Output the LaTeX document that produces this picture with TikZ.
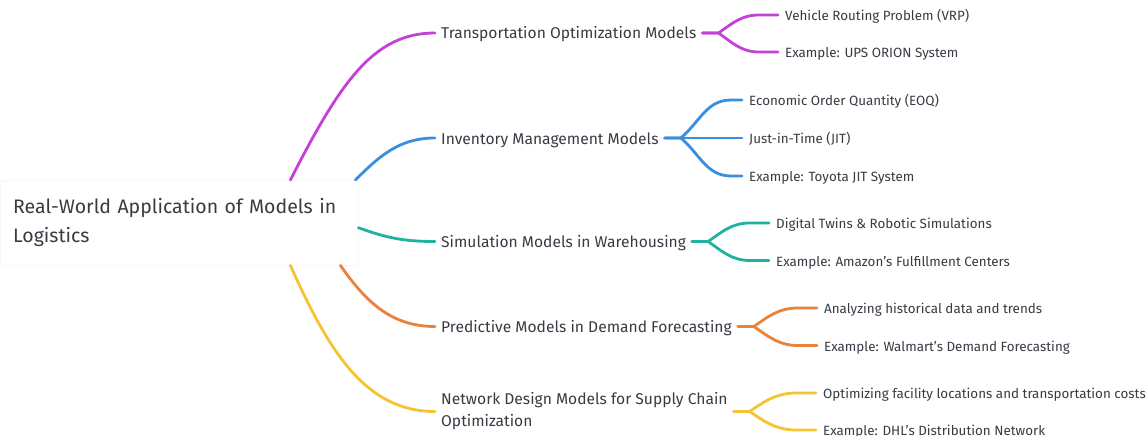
\documentclass[tikz,border=0pt]{standalone}
\usepackage{fontspec}
\setmainfont{Fira Sans}
\usepackage{tikz}
\usepackage{xcolor}
\definecolor{inkcolor}{RGB}{55,60,68}
\definecolor{transpcolor}{RGB}{196,64,214}
\definecolor{inventcolor}{RGB}{57,142,224}
\definecolor{simulcolor}{RGB}{32,178,160}
\definecolor{predictcolor}{RGB}{235,130,60}
\definecolor{netcolor}{RGB}{245,196,48}

\begin{document}
\begin{tikzpicture}[x=1pt, y=-1pt,
  rootbox/.style={fill=white, draw=black!3, anchor=north west, inner xsep=13pt, inner ysep=0pt,
    minimum width=358pt, minimum height=85pt, text width=332pt, align=left,
    font=\fontsize{19.5}{29.5}\selectfont, text=inkcolor},
  topic/.style={inner sep=0pt, anchor=west, font=\fontsize{15.6}{22}\selectfont, text=inkcolor},
  tline/.style={topic, text height=14pt, text depth=2pt},
  leaf/.style={inner sep=0pt, anchor=west, font=\fontsize{13.4}{16}\selectfont, text=inkcolor,
    text height=13pt, text depth=1.6pt},
  link/.style={line width=2.8pt, line cap=round, line join=round}]

% Canvas
\fill[white] (0,0) rectangle (1146,436);
\useasboundingbox (0,0) rectangle (1146,436);

% Central topic
\node[rootbox] (root) at (0,180) {Real-World Application of Models in\\Logistics};

% Main branches
\node[tline] (transp) at (441,33) {Transportation Optimization Models};
\node[tline] (invent) at (441,138) {Inventory Management Models};
\node[tline] (simul) at (441,241.5) {Simulation Models in Warehousing};
\node[tline] (predict) at (441,326.5) {Predictive Models in Demand Forecasting};
\node[topic, align=left] (netdes) at (441,411.5) {Network Design Models for Supply Chain\\Optimization};

% Leaves
\node[leaf] (t1) at (785,15) {Vehicle Routing Problem (VRP)};
\node[leaf] (t2) at (785,52) {Example: UPS ORION System};
\node[leaf] (i1) at (749,100) {Economic Order Quantity (EOQ)};
\node[leaf] (i2) at (749,138) {Just-in-Time (JIT)};
\node[leaf] (i3) at (749,176) {Example: Toyota JIT System};
\node[leaf] (s1) at (776,223) {Digital Twins \& Robotic Simulations};
\node[leaf] (s2) at (776,260.5) {Example: Amazon's Fulfillment Centers};
\node[leaf] (p1) at (824,308) {Analyzing historical data and trends};
\node[leaf] (p2) at (824,345.5) {Example: Walmart's Demand Forecasting};
\node[leaf] (n1) at (823,393) {Optimizing facility locations and transportation costs};
\node[leaf] (n2) at (823,430) {Example: DHL's Distribution Network};

% Root to main branches
\draw[link, transpcolor] ([xshift=-68pt]root.north east) to[out=63,in=180,out looseness=1.4,in looseness=0.75] ([xshift=-6pt]transp.west);
\draw[link, inventcolor] ([xshift=-3pt]root.north east) to[out=45,in=180] ([xshift=-6pt]invent.west);
\draw[link, simulcolor] ([yshift=-5pt]root.east) to[out=-20,in=180] ([xshift=-6pt]simul.west);
\draw[link, predictcolor] ([xshift=-18pt]root.south east) to[out=-55,in=180] ([xshift=-6pt]predict.west);
\draw[link, netcolor] ([xshift=-68pt]root.south east) to[out=-66,in=180,out looseness=1.2,in looseness=0.85] ([xshift=-6pt]netdes.west);

% Transportation leaves
\draw[link, transpcolor] ([xshift=6pt]transp.east) -- ++(16,0) to[out=35,in=180] ([xshift=-26pt]t1.west) -- ([xshift=-7pt]t1.west);
\draw[link, transpcolor] ([xshift=6pt]transp.east) -- ++(16,0) to[out=-35,in=180] ([xshift=-26pt]t2.west) -- ([xshift=-7pt]t2.west);

% Inventory leaves
\draw[link, inventcolor] ([xshift=6pt]invent.east) -- ++(16,0) to[out=40,in=180] ([xshift=-18pt]i1.west) -- ([xshift=-7pt]i1.west);
\draw[link, inventcolor] ([xshift=6pt]invent.east) -- ([xshift=-7pt]i2.west);
\draw[link, inventcolor] ([xshift=6pt]invent.east) -- ++(16,0) to[out=-40,in=180] ([xshift=-18pt]i3.west) -- ([xshift=-7pt]i3.west);

% Simulation leaves
\draw[link, simulcolor] ([xshift=6pt]simul.east) -- ++(16,0) to[out=35,in=180] ([xshift=-26pt]s1.west) -- ([xshift=-7pt]s1.west);
\draw[link, simulcolor] ([xshift=6pt]simul.east) -- ++(16,0) to[out=-35,in=180] ([xshift=-26pt]s2.west) -- ([xshift=-7pt]s2.west);

% Predictive leaves
\draw[link, predictcolor] ([xshift=6pt]predict.east) -- ++(16,0) to[out=35,in=180] ([xshift=-26pt]p1.west) -- ([xshift=-7pt]p1.west);
\draw[link, predictcolor] ([xshift=6pt]predict.east) -- ++(16,0) to[out=-35,in=180] ([xshift=-26pt]p2.west) -- ([xshift=-7pt]p2.west);

% Network leaves
\draw[link, netcolor] ([xshift=6pt]netdes.east) -- ++(16,0) to[out=35,in=180] ([xshift=-26pt]n1.west) -- ([xshift=-7pt]n1.west);
\draw[link, netcolor] ([xshift=6pt]netdes.east) -- ++(16,0) to[out=-35,in=180] ([xshift=-26pt]n2.west) -- ([xshift=-7pt]n2.west);

\end{tikzpicture}
\end{document}
